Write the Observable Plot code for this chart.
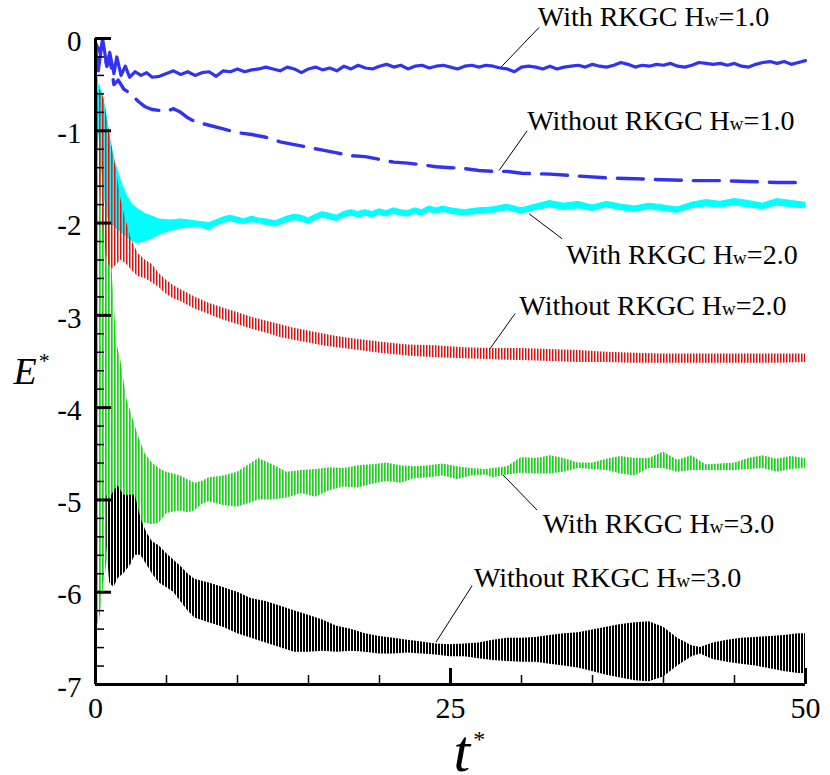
<!DOCTYPE html>
<html><head><meta charset="utf-8">
<script src="https://cdn.jsdelivr.net/npm/d3@7"></script>
<script src="https://cdn.jsdelivr.net/npm/@observablehq/plot@0.6"></script>
<style>
body{margin:0;background:#fff}
#chart{width:830px;height:775px}
#chart svg, #chart svg text, #chart svg tspan{font-family:"Liberation Serif","Times New Roman",Times,serif !important}
</style>
</head><body><div id="chart"></div>
<script>
// ---------- data ----------
// With RKGC Hw=1.0 (blue solid)
const blueSolidT = [0,0.2,0.5,0.8,1.0,1.3,1.5,1.8,2.1,2.4,2.8,3.2,3.6,
  4,4.5,5,5.5,6,6.5,7,7.5,8,8.5,9,9.5,10,10.5,11,11.5,12,12.5,13,13.5,14,14.5,15,15.5,16,16.5,17,17.5,18,18.5,19,19.5,20,
  20.5,21,21.5,22,22.5,23,23.5,24,24.5,25,25.5,26,26.5,27,27.5,28,28.5,29,29.5,30,30.5,31,31.5,32,32.5,33,33.5,34,34.5,35,
  35.5,36,36.5,37,37.5,38,38.5,39,39.5,40,40.5,41,41.5,42,42.5,43,43.5,44,44.5,45,45.5,46,46.5,47,47.5,48,48.5,49,49.5,50];
const blueSolidE = [-0.1,-0.35,0.0,-0.3,-0.15,-0.38,-0.2,-0.4,-0.3,-0.42,-0.36,-0.4,-0.37,
  -0.42,-0.41,-0.38,-0.35,-0.39,-0.36,-0.4,-0.37,-0.36,-0.41,-0.35,-0.36,-0.33,-0.36,-0.34,-0.33,-0.31,-0.33,-0.35,-0.31,-0.33,-0.37,-0.33,-0.31,-0.34,-0.32,-0.35,-0.30,-0.33,-0.29,-0.32,-0.33,-0.30,
  -0.28,-0.31,-0.29,-0.33,-0.30,-0.29,-0.32,-0.30,-0.29,-0.31,-0.33,-0.30,-0.29,-0.31,-0.29,-0.30,-0.32,-0.33,-0.36,-0.31,-0.30,-0.31,-0.33,-0.30,-0.33,-0.31,-0.30,-0.29,-0.31,-0.28,
  -0.30,-0.31,-0.29,-0.26,-0.28,-0.31,-0.29,-0.30,-0.28,-0.29,-0.27,-0.30,-0.31,-0.29,-0.26,-0.27,-0.28,-0.27,-0.29,-0.27,-0.30,-0.31,-0.28,-0.26,-0.25,-0.27,-0.25,-0.28,-0.26,-0.24];

// Without RKGC Hw=1.0 (blue dashed)
const blueDashT = [0,0.3,0.5,0.8,1.0,1.3,1.6,2.0,2.5,3.0,3.5,4.0,4.5,5.0,5.5,6.0,6.5,
  7,8,9,10,11,12,13,14,15,16,17,18,19,20,21,22,23,24,25,26,27,28,29,30,32,34,36,38,40,42,44,46,48,50];
const blueDashE = [-0.05,-0.15,-0.05,-0.3,-0.2,-0.5,-0.45,-0.55,-0.6,-0.68,-0.74,-0.77,-0.78,-0.79,-0.76,-0.8,-0.86,
  -0.9,-0.94,-0.98,-1.02,-1.04,-1.07,-1.12,-1.15,-1.18,-1.21,-1.24,-1.27,-1.28,-1.31,-1.34,-1.35,-1.37,-1.39,-1.40,-1.41,-1.43,-1.44,-1.44,-1.46,
  -1.47,-1.49,-1.51,-1.52,-1.53,-1.54,-1.54,-1.55,-1.56,-1.56];

// With RKGC Hw=2.0 (cyan) : envelope of the oscillation
const cyanT = [0.2,0.5,0.8,1.1,1.4,1.8,2.2,2.6,3.0,3.5,
  4,4.5,5,5.5,6,6.5,7,7.5,8,8.5,9,9.5,10,10.5,11,11.5,12,12.7,
  13.5,14,14.5,15,15.5,16,16.5,17,17.5,18,18.5,19,19.5,20,20.5,21,21.5,22,22.5,23,23.5,24,24.5,25,
  26,27,28,29,30,31,32,33,34,35,36,37,38,39,40,41,42,43,44,45,46,47,48,49,50];
const cyanHi = [-0.5,-0.6,-0.85,-1.15,-1.35,-1.55,-1.7,-1.8,-1.85,-1.9,
  -1.93,-1.96,-1.97,-1.97,-1.96,-1.97,-1.98,-1.99,-2.0,-1.97,-1.94,-1.92,-1.94,-1.96,-1.93,-1.95,-1.96,-1.98,
  -1.93,-1.91,-1.92,-1.95,-1.91,-1.88,-1.9,-1.92,-1.88,-1.86,-1.88,-1.86,-1.88,-1.85,-1.87,-1.84,-1.86,-1.87,-1.84,-1.86,-1.82,-1.84,-1.82,-1.84,
  -1.86,-1.84,-1.83,-1.8,-1.84,-1.8,-1.76,-1.79,-1.77,-1.81,-1.77,-1.8,-1.82,-1.79,-1.81,-1.83,-1.78,-1.75,-1.77,-1.74,-1.76,-1.79,-1.74,-1.76,-1.78];
const cyanLo = [-0.9,-1.5,-1.9,-2.0,-2.05,-2.1,-2.15,-2.2,-2.22,-2.2,
  -2.17,-2.13,-2.1,-2.08,-2.06,-2.05,-2.04,-2.05,-2.08,-2.03,-2.0,-1.98,-2.0,-2.01,-1.99,-2.0,-2.02,-2.04,
  -1.99,-1.97,-1.98,-2.01,-1.97,-1.94,-1.96,-1.98,-1.94,-1.92,-1.94,-1.92,-1.94,-1.91,-1.93,-1.9,-1.92,-1.93,-1.9,-1.92,-1.88,-1.9,-1.88,-1.9,
  -1.92,-1.9,-1.89,-1.86,-1.9,-1.86,-1.83,-1.86,-1.84,-1.87,-1.83,-1.86,-1.88,-1.85,-1.87,-1.89,-1.84,-1.82,-1.83,-1.81,-1.83,-1.85,-1.81,-1.83,-1.84];

// Without RKGC Hw=2.0 (red)
const redT = [0.1,0.3,0.6,0.9,1.2,1.5,1.8,2.2,2.6,3.0,3.5,4.0,4.5,5.0,5.5,6,
  7,8,9,10,11,12,13,14,15,16,17,18,19,20,
  22,24,26,28,30,32,34,36,38,40,42,44,46,48,50];
const redHi = [-0.6,-0.55,-0.65,-0.95,-1.2,-1.45,-1.75,-2.0,-2.2,-2.33,-2.4,-2.45,-2.55,-2.62,-2.68,-2.72,
  -2.8,-2.87,-2.92,-2.97,-3.02,-3.06,-3.1,-3.14,-3.17,-3.2,-3.23,-3.25,-3.27,-3.29,
  -3.32,-3.33,-3.35,-3.36,-3.36,-3.37,-3.38,-3.4,-3.41,-3.42,-3.42,-3.42,-3.42,-3.42,-3.42];
const redLo = [-1.0,-1.6,-2.2,-2.45,-2.5,-2.45,-2.4,-2.45,-2.52,-2.58,-2.6,-2.65,-2.7,-2.77,-2.82,-2.85,
  -2.93,-2.99,-3.05,-3.1,-3.15,-3.19,-3.24,-3.27,-3.3,-3.33,-3.35,-3.37,-3.39,-3.41,
  -3.44,-3.46,-3.47,-3.48,-3.49,-3.5,-3.51,-3.51,-3.52,-3.52,-3.52,-3.52,-3.52,-3.52,-3.51];

// With RKGC Hw=3.0 (green)
const greenT = [0,0.3,0.6,0.9,1.2,1.5,1.8,2.2,2.6,3.0,3.5,4.0,4.5,5.0,5.5,6.0,6.5,7.0,7.5,
  8,9,10,11,
  11.5,12.5,13.5,14.5,15.5,16.5,17.5,18.5,19.5,20.5,21.5,22.5,23.5,24.5,25.5,26.5,27.5,
  28,
  29,30,31,32,33,34,35,36,37,38,39,40,41,42,43,44,45,46,47,48,49,50];
const greenLo = [-6.4,-6.3,-5.9,-5.6,-5.4,-5.2,-5.1,-5.15,-5.25,-5.25,-5.25,-5.27,-5.25,-5.15,-5.13,-5.12,-5.14,-5.12,-5.05,
  -5.02,-5.06,-5.08,-5.03,
  -5.0,-5.0,-4.98,-4.93,-4.97,-4.9,-4.86,-4.87,-4.83,-4.8,-4.82,-4.77,-4.76,-4.74,-4.78,-4.74,-4.73,
  -4.76,
  -4.73,-4.71,-4.72,-4.72,-4.7,-4.66,-4.67,-4.68,-4.72,-4.74,-4.66,-4.66,-4.7,-4.68,-4.68,-4.68,-4.68,-4.67,-4.66,-4.7,-4.67,-4.66];
const greenHi = [-0.3,-0.5,-0.9,-1.6,-2.6,-3.3,-3.5,-3.9,-4.1,-4.3,-4.5,-4.6,-4.66,-4.7,-4.72,-4.74,-4.78,-4.82,-4.8,
  -4.76,-4.74,-4.7,-4.6,
  -4.55,-4.62,-4.7,-4.68,-4.67,-4.65,-4.66,-4.63,-4.62,-4.6,-4.63,-4.64,-4.63,-4.61,-4.64,-4.66,-4.67,
  -4.66,
  -4.64,-4.54,-4.55,-4.52,-4.55,-4.6,-4.6,-4.56,-4.53,-4.55,-4.55,-4.48,-4.57,-4.52,-4.62,-4.61,-4.6,-4.55,-4.52,-4.56,-4.53,-4.55];

// Without RKGC Hw=3.0 (black)
const blackT = [0.8,1.0,1.3,1.6,2.0,2.5,2.8,3.2,3.6,4.0,4.5,5.0,5.5,6.0,6.5,
  7,8,9,10,11,12,13,14,15,16,17,18,19,20,21,22,23,24,25,26,27,28,29,30,31,32,33,34,35,36,37,38,39,40,41,42,
  42.6,43.5,44.5,45.5,46.5,47.5,48.5,49.5,50];
const blackHi = [-4.95,-5.0,-4.9,-4.85,-4.95,-4.95,-4.95,-5.2,-5.35,-5.45,-5.5,-5.58,-5.65,-5.72,-5.8,
  -5.86,-5.9,-5.95,-6.0,-6.07,-6.1,-6.15,-6.2,-6.25,-6.3,-6.37,-6.4,-6.45,-6.48,-6.5,-6.52,-6.54,-6.56,-6.57,-6.56,-6.55,-6.52,-6.5,-6.5,-6.49,-6.47,-6.45,-6.44,-6.41,-6.38,-6.35,-6.33,-6.32,-6.38,-6.5,-6.58,
  -6.6,-6.55,-6.52,-6.5,-6.49,-6.48,-6.47,-6.45,-6.45];
const blackLo = [-5.5,-5.9,-5.95,-5.85,-5.8,-5.7,-5.6,-5.6,-5.7,-5.8,-5.9,-5.95,-6.0,-6.1,-6.2,
  -6.28,-6.33,-6.38,-6.45,-6.5,-6.55,-6.6,-6.65,-6.65,-6.64,-6.65,-6.64,-6.65,-6.67,-6.67,-6.66,-6.67,-6.68,-6.7,-6.7,-6.72,-6.74,-6.75,-6.76,-6.76,-6.78,-6.8,-6.82,-6.86,-6.9,-6.93,-6.96,-6.97,-6.92,-6.8,-6.7,
  -6.67,-6.73,-6.76,-6.78,-6.8,-6.83,-6.86,-6.88,-6.88];

// curve labels and their leader lines (data units)
const labelText = ["With RKGC Hw=1.0","Without RKGC Hw=1.0","With RKGC Hw=2.0","Without RKGC Hw=2.0","With RKGC Hw=3.0","Without RKGC Hw=3.0"];
const labelT = [31.15, 30.4, 33.15, 29.85, 31.5, 26.65];
const labelE = [0.14, -0.99, -2.44, -3.0, -5.36, -5.94];
const leaderT1 = [31.24, 30.4, 30.54, 29.55, 28.7, 26.52];
const leaderE1 = [0.12, -1.0, -1.9, -2.98, -4.73, -5.93];
const leaderT2 = [28.56, 28.42, 32.86, 27.79, 31.1, 23.98];
const leaderE2 = [-0.31, -1.43, -2.17, -3.36, -5.11, -6.54];

// axes ticks
const xMajor = [0, 25, 50];
const xMinor = [5, 10, 15, 20, 30, 35, 40, 45];
const yMajor = [0, -1, -2, -3, -4, -5, -6, -7];
const yMinor = d3.range(1, 35).map(i => -i / 5).filter(v => Math.abs(v - Math.round(v)) > 1e-6);

// ---------- build tables ----------
const line = (T, E) => T.map((t, i) => ({t, e: E[i]})).filter(d => d.e !== undefined);
const band = (T, L, H) => T.map((t, i) => ({t, lo: L[i], hi: H[i]})).filter(d => d.lo !== undefined && d.hi !== undefined);
const labels = labelText.map((s, i) => ({s, t: labelT[i], e: labelE[i]}));
const leaders = leaderT1.map((t, i) => ({t1: t, e1: leaderE1[i], t2: leaderT2[i], e2: leaderE2[i]}));

const W = 830, H = 775, ML = 95, MR = 25, MT = 38, MB = 91;
const innerW = W - ML - MR, innerH = H - MT - MB;
const serif = "Liberation Serif";

const chart = Plot.plot({
  width: W, height: H,
  marginLeft: ML, marginRight: MR, marginTop: MT, marginBottom: MB,
  x: {domain: [0, 50]},
  y: {domain: [-7, 0]},
  style: {fontFamily: serif, background: "#fff", color: "#000", overflow: "visible"},
  marks: [
    Plot.areaY(band(greenT, greenLo, greenHi), {x: "t", y1: "lo", y2: "hi", fill: "url(#stripeGreen)"}),
    Plot.areaY(band(blackT, blackLo, blackHi), {x: "t", y1: "lo", y2: "hi", fill: "url(#stripeBlack)"}),
    Plot.areaY(band(cyanT, cyanLo, cyanHi), {x: "t", y1: "lo", y2: "hi", fill: "#00ffff", stroke: "#00ffff", strokeWidth: 1}),
    Plot.areaY(band(redT, redLo, redHi), {x: "t", y1: "lo", y2: "hi", fill: "url(#stripeRed)"}),
    Plot.line(line(blueDashT, blueDashE), {x: "t", y: "e", stroke: "#3232f2", strokeWidth: 3.4, strokeDasharray: "26,12"}),
    Plot.line(line(blueSolidT, blueSolidE), {x: "t", y: "e", stroke: "#3232f2", strokeWidth: 3.2}),
    // axis frame and inward ticks
    Plot.ruleX([0], {stroke: "#000", strokeWidth: 3}),
    Plot.ruleY([-7], {stroke: "#000", strokeWidth: 3}),
    Plot.tickY(yMajor, {y: d => d, stroke: "#000", strokeWidth: 3, insetRight: innerW - 16}),
    Plot.tickY(yMinor, {y: d => d, stroke: "#000", strokeWidth: 1.5, insetRight: innerW - 9}),
    Plot.tickX(xMajor, {x: d => d, stroke: "#000", strokeWidth: 3, insetTop: innerH - 16}),
    Plot.tickX(xMinor, {x: d => d, stroke: "#000", strokeWidth: 1.5, insetTop: innerH - 9}),
    Plot.axisY({ticks: yMajor, tickSize: 0, tickPadding: 14, tickFormat: d => String(d), label: null, fontSize: 29, dy: 3, fontFamily: serif}),
    Plot.axisX({ticks: xMajor, tickSize: 0, tickPadding: 12, tickFormat: d => String(d), label: null, fontSize: 30, fontFamily: serif}),
    // leaders and labels
    Plot.link(leaders, {x1: "t1", y1: "e1", x2: "t2", y2: "e2", stroke: "#000", strokeWidth: 1}),
    Plot.text(labels, {x: "t", y: "e", text: "s", textAnchor: "start", lineAnchor: "bottom", fontSize: 28, fill: "#000", fontFamily: serif}),
    // axis titles
    Plot.text(["E*"], {frameAnchor: "left", text: d => d, textAnchor: "start", lineAnchor: "bottom", dx: -82, dy: 22, fontSize: 38, fontStyle: "italic", fill: "#000", fontFamily: serif}),
    Plot.text(["t*"], {frameAnchor: "bottom", text: d => d, textAnchor: "start", lineAnchor: "bottom", dx: 3, dy: 86, fontSize: 60, fontStyle: "italic", fill: "#000", fontFamily: serif})
  ]
});

const NS = "http://www.w3.org/2000/svg";
function el(name, attrs, txt) {
  const t = document.createElementNS(NS, name);
  for (const k in attrs) t.setAttribute(k, attrs[k]);
  if (txt != null) t.textContent = txt;
  return t;
}
// stripe patterns imitate the dense oscillation of the curves
const defs = el("defs", {});
[["stripeGreen", "#18d418", 1.7, 3], ["stripeBlack", "#000", 2.0, 3], ["stripeRed", "#e01010", 1.5, 3]].forEach(([id, c, w, p]) => {
  const pat = el("pattern", {id, patternUnits: "userSpaceOnUse", width: p, height: 20});
  pat.append(el("rect", {x: 0, y: 0, width: w, height: 20, fill: c}));
  defs.append(pat);
});
chart.insertBefore(defs, chart.firstChild);

chart.querySelectorAll("text").forEach(t => {
  const s = t.textContent;
  if (t.children.length) return;
  const i = s.indexOf("Hw");
  if (i >= 0) {
    t.textContent = "";
    t.append(el("tspan", {}, s.slice(0, i + 1)), el("tspan", {"font-size": 19}, "w"), el("tspan", {}, s.slice(i + 2)));
  } else if (s === "E*") {
    t.textContent = "";
    t.append(el("tspan", {}, "E"), el("tspan", {"font-size": 22, "font-style": "normal", dy: -16, dx: 2}, "*"));
  } else if (s === "t*") {
    t.textContent = "";
    t.append(el("tspan", {}, "t"), el("tspan", {"font-size": 24, "font-style": "normal", dy: -24, dx: 3}, "*"));
  }
});
document.getElementById("chart").append(chart);
</script></body></html>
